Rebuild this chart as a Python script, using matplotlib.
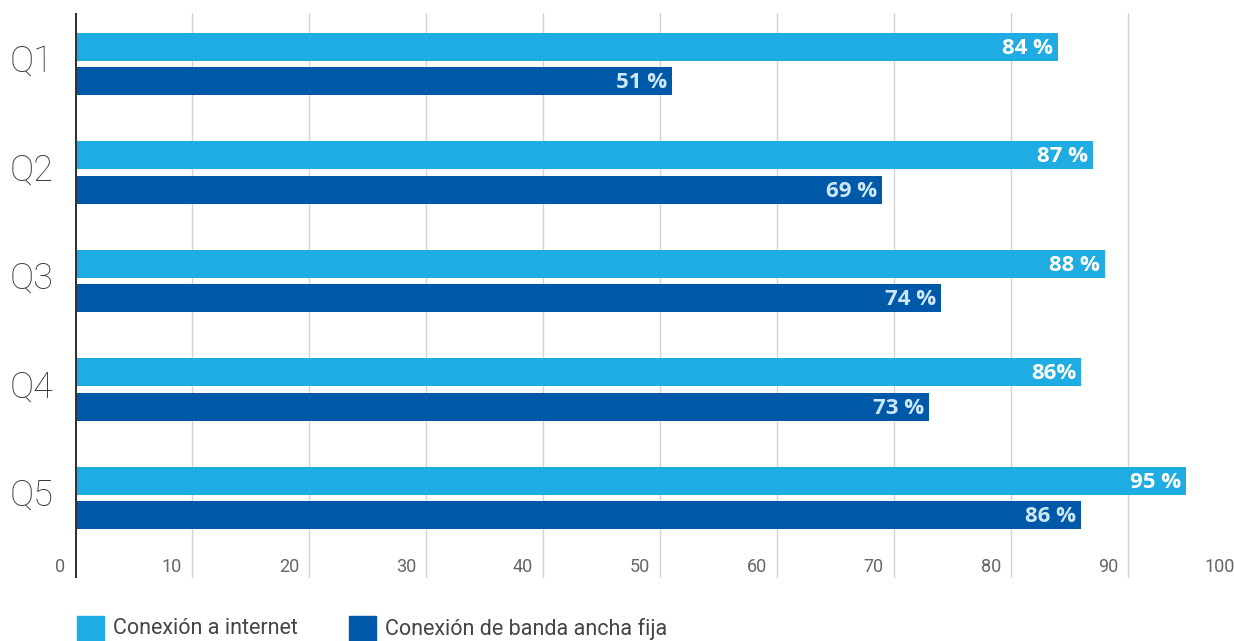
import numpy as np
import matplotlib.pyplot as plt
from matplotlib.patches import Rectangle
from matplotlib.transforms import blended_transform_factory

# data
quintiles = ['Q1', 'Q2', 'Q3', 'Q4', 'Q5']
internet = [84, 87, 88, 86, 95]
banda_fija = [51, 69, 74, 73, 86]
internet_labels = ['84 %', '87 %', '88 %', '86%', '95 %']
banda_labels = ['51 %', '69 %', '74 %', '73 %', '86 %']
x_ticks = [0, 10, 20, 30, 40, 50, 60, 70, 80, 90, 100]
series_names = ['Conexión a internet', 'Conexión de banda ancha fija']

light_blue = '#1eace2'
dark_blue = '#0059a8'

W, H = 1234, 641
fig = plt.figure(figsize=(W / 100, H / 100), dpi=100)
# axes: x=0 at px 75, top at px 13, bottom at px 578
ax = fig.add_axes([75 / W, (H - 578) / H, 1 - 75 / W, 565 / H])

y = np.arange(len(quintiles))
bar_h = 28 / 108.5
off = 17.25 / 108.5

ax.barh(y - off, internet, height=bar_h, color=light_blue, zorder=2)
ax.barh(y + off, banda_fija, height=bar_h, color=dark_blue, zorder=2)

ax.set_xlim(0, (W - 75) / 11.7)
ax.set_ylim(4.737, -0.47)

# gridlines
for v in x_ticks[1:]:
    ax.axvline(v, color='#d4d4d4', lw=1, zorder=1)
ax.axvline(0, color='#333333', lw=2.2, zorder=3)

# value labels
pad = 5 / 11.7
for i in range(len(quintiles)):
    ax.text(internet[i] - pad, y[i] - off + 0.012, internet_labels[i], ha='right', va='center',
            color='white', fontsize=16, fontweight='bold', family='Open Sans', zorder=4)
    ax.text(banda_fija[i] - pad, y[i] + off + 0.012, banda_labels[i], ha='right', va='center',
            color='#cde8f9', fontsize=16, fontweight='bold', family='Open Sans', zorder=4)

# category labels
for i, q in enumerate(quintiles):
    ax.text((32 - 75) / 11.7, y[i] - 0.02, q, ha='center', va='center', color='#3a3a3a',
            fontsize=26, fontweight='light', family='Roboto', clip_on=False)

# x tick labels, each sits just left of its gridline
trans = blended_transform_factory(ax.transData, ax.transAxes)
for v in x_ticks:
    ax.text(v - 10 / 11.7, 0.02, str(v), transform=trans, ha='right', va='center',
            color='#666666', fontsize=13, fontweight='normal', family='Roboto', clip_on=False)

for s in ax.spines.values():
    s.set_visible(False)
ax.set_xticks([])
ax.set_yticks([])

# legend
for x0, name, c in [(77, series_names[0], light_blue), (349, series_names[1], dark_blue)]:
    fig.patches.append(Rectangle((x0 / W, (H - 643) / H), 27 / W, 27 / H,
                                 transform=fig.transFigure, color=c))
    fig.text((x0 + 36) / W, (H - 629) / H, name, ha='left', va='center',
             color='#444444', fontsize=15.5, fontweight='normal', family='Roboto')

fig.savefig('out.png', dpi=100)
